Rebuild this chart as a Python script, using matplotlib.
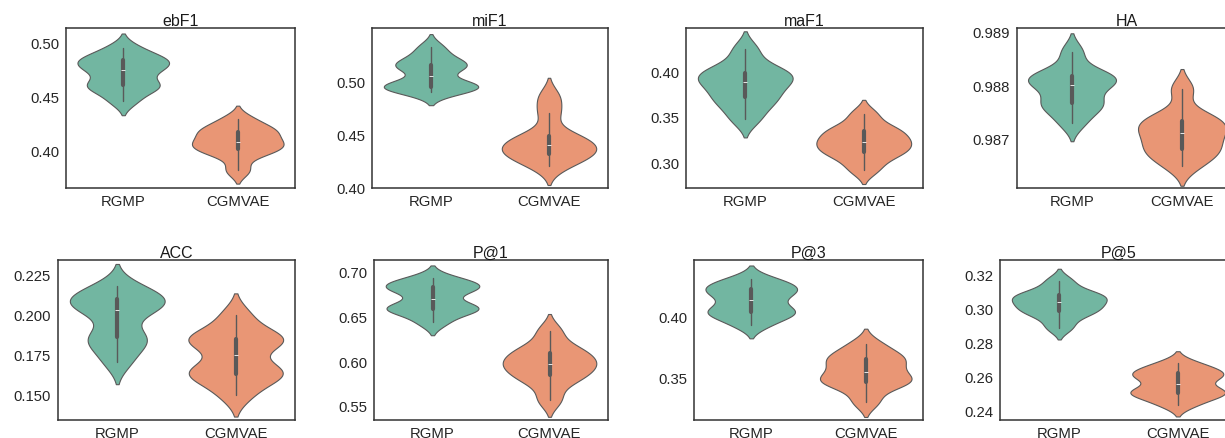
import matplotlib
matplotlib.use("Agg")
import matplotlib.pyplot as plt
import seaborn as sns
import pandas as pd

methods = ["RGMP", "CGMVAE"]
metrics = ["ebF1", "miF1", "maF1", "HA", "ACC", "P@1", "P@3", "P@5"]

ebF1_rgmp = [0.446, 0.457, 0.460, 0.462, 0.473, 0.476, 0.481, 0.4845, 0.486, 0.495]
ebF1_cgmvae = [0.381, 0.395, 0.400, 0.403, 0.406, 0.409, 0.415, 0.418, 0.421, 0.429]
miF1_rgmp = [0.4905, 0.494, 0.495, 0.497, 0.499, 0.5125, 0.515, 0.5165, 0.523, 0.5325]
miF1_cgmvae = [0.4201, 0.428, 0.431, 0.434, 0.438, 0.442, 0.446, 0.450, 0.4706, 0.486]
maF1_rgmp = [0.3474, 0.362, 0.370, 0.377, 0.386, 0.391, 0.395, 0.400, 0.406, 0.4246]
maF1_cgmvae = [0.2918, 0.304, 0.311, 0.314, 0.320, 0.324, 0.328, 0.336, 0.338, 0.3531]
HA_rgmp = [0.98730, 0.98755, 0.98765, 0.98772, 0.98798, 0.98804, 0.98810, 0.98818, 0.98825, 0.98862]
HA_cgmvae = [0.98650, 0.98670, 0.98678, 0.98690, 0.98705, 0.98716, 0.98725, 0.98735, 0.98745, 0.98793]
ACC_rgmp = [0.1704, 0.180, 0.185, 0.1875, 0.201, 0.2045, 0.207, 0.210, 0.212, 0.2174]
ACC_cgmvae = [0.1500, 0.160, 0.1625, 0.1645, 0.168, 0.181, 0.183, 0.185, 0.188, 0.1994]
P1_rgmp = [0.6433, 0.655, 0.658, 0.660, 0.663, 0.676, 0.682, 0.6835, 0.687, 0.6926]
P1_cgmvae = [0.5567, 0.576, 0.583, 0.589, 0.595, 0.599, 0.603, 0.6115, 0.615, 0.6335]
P3_rgmp = [0.3929, 0.400, 0.403, 0.4045, 0.410, 0.4165, 0.420, 0.423, 0.426, 0.4306]
P3_cgmvae = [0.3300, 0.342, 0.346, 0.348, 0.351, 0.357, 0.362, 0.366, 0.369, 0.3773]
P5_rgmp = [0.2887, 0.295, 0.298, 0.300, 0.302, 0.305, 0.306, 0.308, 0.310, 0.3161]
P5_cgmvae = [0.2436, 0.248, 0.250, 0.2515, 0.253, 0.2585, 0.260, 0.2625, 0.264, 0.2679]

series = {
    "ebF1": (ebF1_rgmp, ebF1_cgmvae),
    "miF1": (miF1_rgmp, miF1_cgmvae),
    "maF1": (maF1_rgmp, maF1_cgmvae),
    "HA": (HA_rgmp, HA_cgmvae),
    "ACC": (ACC_rgmp, ACC_cgmvae),
    "P@1": (P1_rgmp, P1_cgmvae),
    "P@3": (P3_rgmp, P3_cgmvae),
    "P@5": (P5_rgmp, P5_cgmvae),
}

ylims = {
    "ebF1": (0.3646, 0.5137),
    "miF1": (0.3995, 0.5509),
    "maF1": (0.2716, 0.4482),
    "HA": (0.98609, 0.98906),
    "ACC": (0.1343, 0.2337),
    "P@1": (0.534, 0.7131),
    "P@3": (0.315, 0.4461),
    "P@5": (0.2346, 0.3282),
}
yticks = {
    "ebF1": [0.40, 0.45, 0.50],
    "miF1": [0.40, 0.45, 0.50],
    "maF1": [0.30, 0.35, 0.40],
    "HA": [0.987, 0.988, 0.989],
    "ACC": [0.150, 0.175, 0.200, 0.225],
    "P@1": [0.55, 0.60, 0.65, 0.70],
    "P@3": [0.35, 0.40],
    "P@5": [0.24, 0.26, 0.28, 0.30, 0.32],
}
yfmt = {"ebF1": "%.2f", "miF1": "%.2f", "maF1": "%.2f", "HA": "%.3f",
        "ACC": "%.3f", "P@1": "%.2f", "P@3": "%.2f", "P@5": "%.2f"}

sns.set_style("white")
plt.rcParams["font.family"] = ["Liberation Sans", "DejaVu Sans"]

W, H = 1225, 439
fig = plt.figure(figsize=(W / 100, H / 100), dpi=100)

# pixel boxes (left, right, top, bottom)
boxes = [
    (66, 295, 29, 189), (372, 608, 29, 189), (686, 923, 29, 189), (1017, 1237, 29, 189),
    (58, 295, 261, 421), (374, 608, 261, 421), (694, 923, 261, 421), (1000, 1237, 261, 421),
]

for name, (l, r, t, b) in zip(metrics, boxes):
    ax = fig.add_axes([l / W, 1 - b / H, (r - l) / W, (b - t) / H])
    a, c = series[name]
    df = pd.DataFrame({"method": [methods[0]] * len(a) + [methods[1]] * len(c),
                       "value": list(a) + list(c)})
    kw = dict(data=df, x="method", y="value", hue="method", palette="Set2",
              inner="box", linewidth=0.8, bw_adjust=0.7, ax=ax)
    try:
        sns.violinplot(legend=False, inner_kws=dict(box_width=3, whis_width=1), **kw)
    except TypeError:
        sns.violinplot(**kw)
    ax.set_ylim(*ylims[name])
    ax.set_yticks(yticks[name])
    ax.set_yticklabels([yfmt[name] % v for v in yticks[name]])
    ax.set_xlim(-0.5, 1.5)
    ax.set_xlabel("")
    ax.set_ylabel("")
    ax.set_title(name, fontsize=11.5, pad=2.5, color="#1a1a1a")
    ax.tick_params(axis="y", length=0, pad=5, labelsize=10.7, colors="#262626")
    ax.tick_params(axis="x", length=0, pad=4, labelsize=10.7, colors="#262626")
    for s in ax.spines.values():
        s.set_color("#333333")
        s.set_linewidth(1.1)

fig.savefig("out.png", dpi=100)
